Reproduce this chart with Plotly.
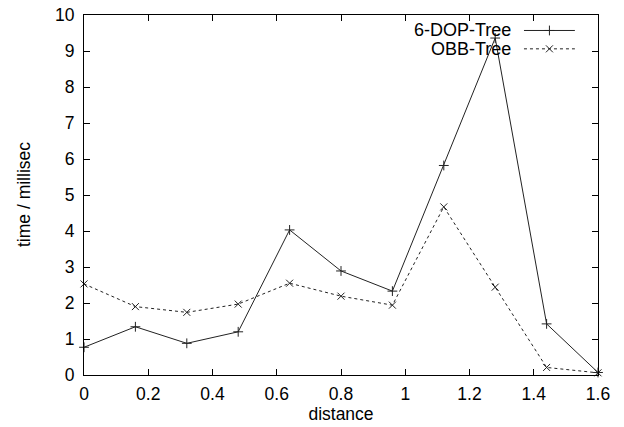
import plotly.graph_objects as go

distance = [0.0, 0.16, 0.32, 0.48, 0.64, 0.80, 0.96, 1.12, 1.28, 1.44, 1.60]
dop_tree = [0.77, 1.34, 0.88, 1.20, 4.03, 2.89, 2.33, 5.82, 9.36, 1.42, 0.07]
obb_tree = [2.53, 1.90, 1.74, 1.97, 2.55, 2.19, 1.94, 4.67, 2.44, 0.21, 0.06]
series_names = ["6-DOP-Tree", "OBB-Tree"]
x_ticks = [0, 0.2, 0.4, 0.6, 0.8, 1, 1.2, 1.4, 1.6]
x_tick_text = ["0", "0.2", "0.4", "0.6", "0.8", "1", "1.2", "1.4", "1.6"]
y_ticks = list(range(0, 11))

FONT = "Liberation Sans, Arial, sans-serif"
LC = "#222222"

fig = go.Figure()
fig.add_trace(go.Scatter(
    x=distance, y=dop_tree, mode="lines+markers", name=series_names[0],
    line=dict(color=LC, width=1),
    marker=dict(symbol="cross-thin", size=7, line=dict(color=LC, width=1)),
    showlegend=False, cliponaxis=False))
fig.add_trace(go.Scatter(
    x=distance, y=obb_tree, mode="lines+markers", name=series_names[1],
    line=dict(color=LC, width=1, dash="3px,3px"),
    marker=dict(symbol="x-thin", size=7, line=dict(color=LC, width=1)),
    showlegend=False, cliponaxis=False))

# manual gnuplot-style key (text left, sample right) on an overlay axis
key_rows = [0.957, 0.906]
key_dash = ["solid", "3px,3px"]
key_sym = ["cross-thin", "x-thin"]
for name, ky, dsh, sym in zip(series_names, key_rows, key_dash, key_sym):
    fig.add_trace(go.Scatter(
        x=[0.856, 0.955], y=[ky, ky], mode="lines", xaxis="x2", yaxis="y2",
        line=dict(color=LC, width=1, dash=dsh), showlegend=False, hoverinfo="skip"))
    fig.add_trace(go.Scatter(
        x=[0.9055], y=[ky], mode="markers", xaxis="x2", yaxis="y2",
        marker=dict(symbol=sym, size=7, line=dict(color=LC, width=1)),
        showlegend=False, hoverinfo="skip"))
    fig.add_annotation(x=0.834, y=ky, xref="x2", yref="y2", text=name,
                       showarrow=False, xanchor="right", yanchor="middle",
                       font=dict(family=FONT, size=18, color="black"))

# y-axis title placed as a rotated annotation (gnuplot-like position)
fig.add_annotation(x=0, y=0.5, xref="paper", yref="paper", text="time / millisec",
                   textangle=-90, showarrow=False, xanchor="center", yanchor="middle",
                   xshift=-60, font=dict(family=FONT, size=17.5, color="black"))

axis_common = dict(
    showgrid=False, zeroline=False, showline=True, linecolor="black", linewidth=1,
    mirror="ticks", ticks="inside", ticklen=6, tickcolor="black", tickwidth=1,
    tickfont=dict(family=FONT, size=17.5, color="black"), automargin=False,
    ticklabeloverflow="allow",
)

fig.update_layout(
    template="none",
    width=624, height=427,
    margin=dict(l=84, r=26, t=15, b=52),
    paper_bgcolor="white", plot_bgcolor="white",
    xaxis=dict(range=[0, 1.6], tickvals=x_ticks, ticktext=x_tick_text,
               title=dict(text="distance", font=dict(family=FONT, size=17.5, color="black"),
                          standoff=2),
               ticklabelstandoff=3, **axis_common),
    yaxis=dict(range=[0, 10], tickvals=y_ticks, ticklabelstandoff=5, **axis_common),
    xaxis2=dict(range=[0, 1], overlaying="x", visible=False, fixedrange=True),
    yaxis2=dict(range=[0, 1], overlaying="y", visible=False, fixedrange=True),
    showlegend=False,
)

# remove the browser's default 8px body margin so the figure fills the window
fig.write_html("out.html", config={"displayModeBar": False},
               post_script="document.body.style.margin='0';")
